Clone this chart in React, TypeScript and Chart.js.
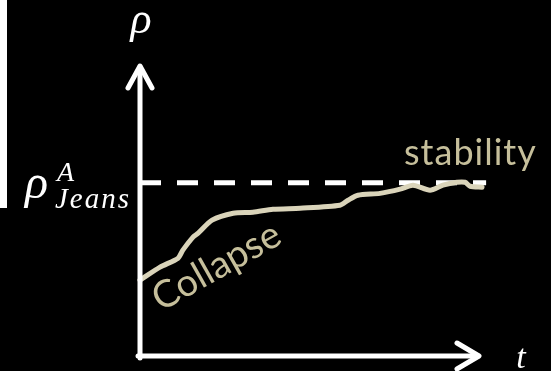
import { useEffect, useRef } from "react";
import { Chart, registerables } from "chart.js";

Chart.register(...registerables);

// ---- data (t in arbitrary time units, rho normalised to the Jeans density) ----
const timeValues = [0, 0.59, 1.12, 1.26, 1.56, 1.71, 2.12, 2.74, 3.32, 3.91, 4.71, 5.88, 6.12, 6.41, 7.06, 7.65, 8.03, 8.53, 8.91, 9.32, 9.56, 9.71, 10.06];
const densityValues = [0.438, 0.513, 0.565, 0.611, 0.686, 0.709, 0.784, 0.824, 0.83, 0.847, 0.853, 0.87, 0.899, 0.928, 0.939, 0.963, 0.986, 0.957, 0.986, 1.003, 1.003, 0.98, 0.974];
const jeansLevel = 1;
const jeansSpan = [0, 10.18];
const tMax = 10;
const rhoMax = 1.68;
const yAxisLabel = "ρ";
const xAxisLabel = "t";
const jeansMain = "ρ";
const jeansSup = "A";
const jeansSub = "Jeans";
const stableLabel = "stability";
const collapseLabel = "Collapse";

const BEIGE_LINE = "#dad4ba";
const BEIGE_TEXT = "#c6bf9b";
const SERIF = "Times, 'Times New Roman', 'Liberation Serif', 'DejaVu Serif', serif";

const decorPlugin = {
  id: "decor",
  beforeDraw(chart: any) {
    const { ctx, width, height } = chart;
    ctx.save();
    ctx.fillStyle = "#000";
    ctx.fillRect(0, 0, width, height);
    ctx.fillStyle = "#fff";
    ctx.fillRect(0, 0, 7, 208);
    ctx.restore();
  },
  afterDatasetsDraw(chart: any) {
    const { ctx } = chart;
    const xs = chart.scales.x;
    const ys = chart.scales.y;
    const x0 = xs.getPixelForValue(0);
    const y0 = ys.getPixelForValue(0);
    const xTip = xs.getPixelForValue(tMax);
    const yTip = ys.getPixelForValue(rhoMax);
    ctx.save();
    ctx.strokeStyle = "#fff";
    ctx.lineWidth = 5;
    ctx.lineCap = "round";
    ctx.lineJoin = "round";
    ctx.beginPath();
    ctx.moveTo(x0, y0 + 2);
    ctx.lineTo(x0, yTip + 2);
    ctx.stroke();
    ctx.beginPath();
    ctx.moveTo(x0 - 12, yTip + 23);
    ctx.lineTo(x0, yTip + 1);
    ctx.lineTo(x0 + 12, yTip + 23);
    ctx.stroke();
    ctx.beginPath();
    ctx.moveTo(x0 - 2, y0);
    ctx.lineTo(xTip - 2, y0);
    ctx.stroke();
    ctx.beginPath();
    ctx.moveTo(xTip - 23, y0 - 13);
    ctx.lineTo(xTip - 1, y0);
    ctx.lineTo(xTip - 23, y0 + 13);
    ctx.stroke();

    ctx.fillStyle = "#fff";
    ctx.textAlign = "center";
    ctx.textBaseline = "alphabetic";
    ctx.font = `italic 44px ${SERIF}`;
    ctx.fillText(yAxisLabel, x0 + 1, 33);
    ctx.font = `italic 34px ${SERIF}`;
    ctx.fillText(xAxisLabel, xTip + 41, y0 + 12);

    const yJ = ys.getPixelForValue(jeansLevel);
    ctx.textAlign = "left";
    ctx.font = `italic 48px ${SERIF}`;
    ctx.fillText(jeansMain, 25, yJ + 15);
    ctx.font = `italic 28px ${SERIF}`;
    ctx.fillText(jeansSup, 57, yJ - 2);
    ctx.font = `italic 29px ${SERIF}`;
    (ctx as any).letterSpacing = "2px";
    ctx.fillText(jeansSub, 55, yJ + 25);
    (ctx as any).letterSpacing = "0px";

    ctx.fillStyle = BEIGE_TEXT;
    ctx.font = "36px Lato";
    (ctx as any).letterSpacing = "1px";
    ctx.fillText(stableLabel, 404, 165);
    (ctx as any).letterSpacing = "0px";

    ctx.save();
    ctx.translate(161, 312);
    ctx.rotate((-29.5 * Math.PI) / 180);
    ctx.font = "38px Lato";
    ctx.fillText(collapseLabel, 0, 0);
    ctx.restore();

    ctx.restore();
  },
};

export default function App() {
  const ref = useRef<HTMLCanvasElement | null>(null);
  useEffect(() => {
    document.body.style.margin = "0";
    document.body.style.background = "#000";
    const canvas = ref.current!;
    const chart = new Chart(canvas, {
      type: "line",
      data: {
        datasets: [
          {
            label: "density",
            data: timeValues.map((t, i) => ({ x: t, y: densityValues[i] })),
            borderColor: BEIGE_LINE,
            borderWidth: 5,
            pointRadius: 0,
            tension: 0.25,
            clip: false as any,
            borderCapStyle: "round",
            borderJoinStyle: "round",
          },
          {
            label: "jeans",
            data: jeansSpan.map((t) => ({ x: t, y: jeansLevel })),
            borderColor: "#ffffff",
            borderWidth: 5,
            borderDash: [21, 16],
            pointRadius: 0,
            clip: false as any,
          },
        ],
      },
      options: {
        animation: false,
        responsive: false,
        devicePixelRatio: 1,
        layout: { padding: { left: 140, right: 71, top: 65, bottom: 15 } },
        plugins: { legend: { display: false }, tooltip: { enabled: false } },
        scales: {
          x: { type: "linear", min: 0, max: tMax, display: false },
          y: { type: "linear", min: 0, max: rhoMax, display: false },
        },
      },
      plugins: [decorPlugin],
    });
    return () => chart.destroy();
  }, []);
  return <canvas ref={ref} width={551} height={371} style={{ display: "block" }} />;
}
